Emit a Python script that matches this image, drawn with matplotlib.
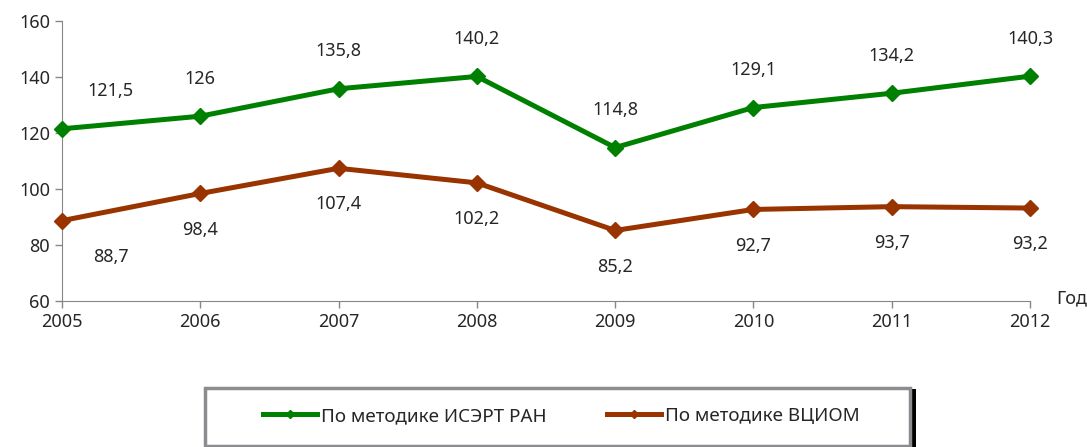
import matplotlib.pyplot as plt
from matplotlib.lines import Line2D
from matplotlib.patches import Rectangle

plt.rcParams['font.family'] = ['Noto Sans', 'DejaVu Sans']

years = [2005, 2006, 2007, 2008, 2009, 2010, 2011, 2012]
isert = [121.5, 126, 135.8, 140.2, 114.8, 129.1, 134.2, 140.3]
vciom = [88.7, 98.4, 107.4, 102.2, 85.2, 92.7, 93.7, 93.2]
isert_labels = ['121,5', '126', '135,8', '140,2', '114,8', '129,1', '134,2', '140,3']
vciom_labels = ['88,7', '98,4', '107,4', '102,2', '85,2', '92,7', '93,7', '93,2']
names = ['По методике ИСЭРТ РАН', 'По методике ВЦИОМ']

green = '#008000'
brown = '#993300'
axis_col = '#868686'
txt = '#262626'

W, H = 1087, 447
fig = plt.figure(figsize=(W / 100, H / 100), dpi=100)
ax = fig.add_axes([0.057, 0.3266, 0.8906, 0.6264])

ax.plot(years, isert, color=green, lw=3.6, marker='D', ms=8, clip_on=False, zorder=3)
ax.plot(years, vciom, color=brown, lw=3.6, marker='D', ms=8, clip_on=False, zorder=3)

# data labels, above for green, below for brown
for i, (x, y) in enumerate(zip(years, isert)):
    dx = 35 if i == 0 else 0
    ax.annotate(isert_labels[i], (x, y), xytext=(dx, 27), textcoords='offset points',
                ha='center', va='center', fontsize=13, color=txt)
for i, (x, y) in enumerate(zip(years, vciom)):
    dx = 35 if i == 0 else 0
    ax.annotate(vciom_labels[i], (x, y), xytext=(dx, -26), textcoords='offset points',
                ha='center', va='center', fontsize=13, color=txt)

ax.set_xlim(2005, 2012)
ax.set_ylim(60, 160)
ax.set_xticks(years)
ax.set_yticks(range(60, 161, 20))
ax.tick_params(colors=axis_col, labelcolor=txt, labelsize=13, length=5, width=1)
for s in ['top', 'right']:
    ax.spines[s].set_visible(False)
for s in ['left', 'bottom']:
    ax.spines[s].set_color(axis_col)

ax.annotate('Год', (1.043, 0.01), xycoords='axes fraction', ha='center', va='center',
            fontsize=13, color=txt)

# legend box with black shadow on the right
fig.patches.append(Rectangle((211 / W, -0.01), 705 / W, 58 / H + 0.01, transform=fig.transFigure,
                             facecolor='black', edgecolor='none', zorder=1))
fig.patches.append(Rectangle((205 / W, 1 / H), 705 / W, 58 / H, transform=fig.transFigure,
                             facecolor='white', edgecolor='#8c8c90', lw=2.5, zorder=2))

handles = [Line2D([], [], color=green, lw=3.6, marker='D', ms=4.5),
           Line2D([], [], color=brown, lw=3.6, marker='D', ms=4.5)]
leg = fig.legend(handles, names, loc='center left', ncol=2, frameon=False,
                 bbox_to_anchor=(263 / W, 1 - 416 / H),
                 fontsize=13.5, handlelength=2.9, handletextpad=0.2, columnspacing=3.2,
                 borderaxespad=0, borderpad=0)
leg.set_zorder(3)
for t in leg.get_texts():
    t.set_color(txt)

fig.savefig('out.png', dpi=100)
